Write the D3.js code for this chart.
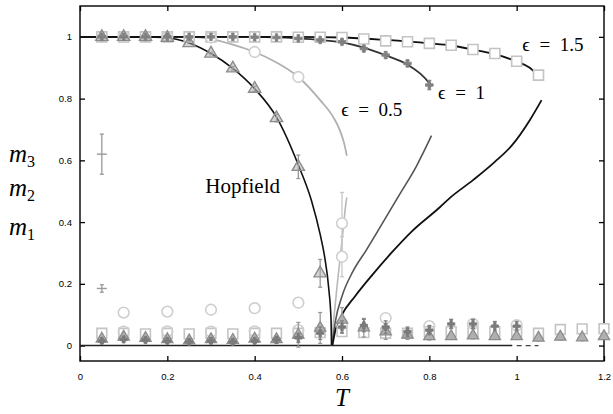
<!DOCTYPE html>
<html>
<head>
<meta charset="utf-8">
<script src="https://cdn.jsdelivr.net/npm/d3@7"></script>
<style>
  body { margin: 0; background: #fff; }
  svg { display: block; }
  .tick text { font-family: "Liberation Sans", Arial, sans-serif; font-size: 9.5px; }
  .serif { font-family: "Liberation Serif", "DejaVu Serif", serif; }
</style>
</head>
<body>
<div id="chart"></div>
<script>
// --- data ---
const xTicks = [0, 0.2, 0.4, 0.6, 0.8, 1, 1.2]
const yTicks = [0, 0.2, 0.4, 0.6, 0.8, 1]

// theory curves [T, m]
const hopfieldCurve = [[0,1],[0.15,1],[0.2,0.997],[0.25,0.98],[0.3,0.946],[0.35,0.898],[0.4,0.832],[0.45,0.74],[0.5,0.585],[0.53,0.47],[0.55,0.36],[0.56,0.29],[0.57,0.18],[0.575,0.08],[0.576,0]]
const eps05Curve = [[0,1],[0.25,1],[0.3,0.993],[0.35,0.975],[0.4,0.951],[0.45,0.917],[0.5,0.87],[0.55,0.795],[0.58,0.74],[0.595,0.698],[0.605,0.655],[0.611,0.615]]
const eps05Rise = [[0.576,0],[0.58,0.07],[0.585,0.14],[0.59,0.21],[0.597,0.3],[0.603,0.38],[0.608,0.45],[0.611,0.48]]
const eps1Curve = [[0,1],[0.4,1],[0.5,0.995],[0.55,0.99],[0.6,0.982],[0.65,0.965],[0.7,0.94],[0.75,0.91],[0.78,0.88],[0.8,0.85],[0.805,0.84]]
const eps1Rise = [[0.577,0],[0.585,0.08],[0.6,0.16],[0.625,0.24],[0.656,0.31],[0.69,0.39],[0.732,0.49],[0.77,0.58],[0.805,0.68]]
const eps15Curve = [[0,1],[0.5,1],[0.6,0.998],[0.7,0.99],[0.8,0.979],[0.85,0.972],[0.9,0.959],[0.95,0.944],[1.0,0.92],[1.03,0.9],[1.055,0.866]]
const eps15Rise = [[0.578,0],[0.585,0.05],[0.6,0.1],[0.63,0.16],[0.67,0.23],[0.713,0.3],[0.76,0.37],[0.824,0.448],[0.846,0.477],[0.9,0.536],[0.95,0.595],[0.99,0.65],[1.03,0.73],[1.057,0.795]]
const zeroLine = [[0,0],[0.99,0]]
const zeroDashes = [[1.0,0],[1.05,0]]

// simulation points: T, m, error
const triT    = [0.05,0.1,0.15,0.2,0.25,0.3,0.35,0.4,0.45,0.5,0.55]
const triM    = [1,1,1,0.997,0.98,0.946,0.898,0.832,0.737,0.579,0.234]
const triErr  = [0,0,0,0,0,0.004,0.006,0.008,0.012,0.038,0.045]
const triLowT = [0.05,0.1,0.15,0.2,0.25,0.3,0.35,0.4,0.45,0.5,0.55,0.6,0.65,0.7,0.75,0.8,0.85,0.9,0.95,1,1.05,1.1,1.15,1.2]
const triLowM = [0.022,0.028,0.024,0.02,0.016,0.02,0.018,0.022,0.02,0.035,0.057,0.083,0.058,0.045,0.035,0.03,0.03,0.032,0.03,0.03,0.025,0.028,0.026,0.03]
const triLowErr = [0.01,0.012,0.01,0.01,0.01,0.01,0.01,0.012,0.012,0.04,0.05,0.04,0.03,0.025,0.015,0.012,0.01,0.01,0.01,0.01,0.01,0.01,0.01,0.01]

const circT    = [0.1,0.2,0.3,0.4,0.5,0.6,0.6]
const circM    = [1,1,0.998,0.951,0.87,0.396,0.288]
const circErr  = [0,0,0,0,0,0.1,0.065]
const circMidT = [0.1,0.2,0.3,0.4,0.5]
const circMidM = [0.107,0.11,0.116,0.121,0.139]
const circLowT = [0.1,0.2,0.3,0.4,0.5,0.6,0.7,0.8,0.9,1.0]
const circLowM = [0.045,0.046,0.045,0.046,0.05,0.07,0.089,0.063,0.07,0.066]

const plusT    = [0.05,0.1,0.15,0.2,0.25,0.3,0.35,0.4,0.45,0.5,0.55,0.6,0.65,0.7,0.75,0.8]
const plusM    = [1,1,1,1,1,1,1,0.999,0.998,0.995,0.99,0.984,0.962,0.941,0.914,0.844]
const plusErr  = [0,0,0,0,0,0,0,0,0,0,0.004,0.006,0.008,0.01,0.01,0.015]
const plusMixT = [0.05,0.05]
const plusMixM = [0.62,0.185]
const plusMixErr = [0.065,0.012]
const plusLowT = [0.05,0.1,0.15,0.2,0.25,0.3,0.35,0.4,0.45,0.5,0.55,0.6,0.65,0.7,0.75,0.8,0.85,0.9,0.95,1.0]
const plusLowM = [0.015,0.02,0.018,0.015,0.012,0.015,0.012,0.015,0.018,0.025,0.04,0.06,0.065,0.06,0.045,0.05,0.07,0.07,0.063,0.063]
const plusLowErr = [0.008,0.008,0.008,0.008,0.008,0.008,0.008,0.008,0.01,0.015,0.02,0.02,0.02,0.02,0.015,0.015,0.015,0.015,0.015,0.015]

const sqT    = [0.05,0.1,0.15,0.2,0.25,0.3,0.35,0.4,0.45,0.5,0.55,0.6,0.65,0.7,0.75,0.8,0.85,0.9,0.95,1.0,1.05]
const sqM    = [1,1,1,1,1,1,1,1,1,0.999,0.999,0.998,0.993,0.987,0.984,0.979,0.973,0.959,0.946,0.921,0.876]
const sqLowT = [0.05,0.1,0.15,0.2,0.25,0.3,0.35,0.4,0.45,0.5,0.55,0.6,0.65,0.7,0.75,0.8,0.85,0.9,0.95,1.0,1.05,1.1,1.15,1.2]
const sqLowM = [0.04,0.04,0.038,0.04,0.038,0.04,0.038,0.04,0.04,0.04,0.042,0.045,0.042,0.04,0.04,0.045,0.045,0.045,0.045,0.045,0.04,0.052,0.054,0.055]

const labels = [
  { text: "\u03f5\u2002=\u20021.5", t: 1.013, m: 0.955 },
  { text: "\u03f5\u2002=\u20021", t: 0.82, m: 0.8 },
  { text: "\u03f5\u2002=\u20020.5", t: 0.598, m: 0.745 },
  { text: "Hopfield", t: 0.287, m: 0.495 }
]

// --- layout ---
const W = 613, H = 414
const margin = { top: 6, right: 9, bottom: 53, left: 80 }
const iw = W - margin.left - margin.right
const ih = H - margin.top - margin.bottom

const svg = d3.select("#chart").append("svg")
  .attr("width", W).attr("height", H)

const g = svg.append("g").attr("transform", `translate(${margin.left},${margin.top})`)

const x = d3.scaleLinear().domain([0, 1.2]).range([0, iw])
const y = d3.scaleLinear().domain([-0.05, 1.1]).range([ih, 0])

const smooth = d3.line().x(d => x(d[0])).y(d => y(d[1])).curve(d3.curveMonotoneX)

// axes with inward ticks
const fmt = d => d === 0 ? "0" : d3.format("~g")(d)
g.append("g").attr("transform", `translate(0,${ih})`)
  .call(d3.axisBottom(x).tickValues(xTicks).tickSize(-5).tickPadding(12).tickFormat(fmt))
g.append("g")
  .call(d3.axisTop(x).tickValues(xTicks).tickSize(-5).tickFormat(""))
g.append("g")
  .call(d3.axisLeft(y).tickValues(yTicks).tickSize(-5).tickPadding(8).tickFormat(fmt))
g.append("g").attr("transform", `translate(${iw},0)`)
  .call(d3.axisRight(y).tickValues(yTicks).tickSize(-5).tickFormat(""))
g.selectAll(".domain").remove()
g.selectAll(".tick line").attr("stroke", "#000").attr("stroke-width", 1.3)
g.append("rect").attr("width", iw).attr("height", ih)
  .attr("fill", "none").attr("stroke", "#000").attr("stroke-width", 1.4)

const plot = g.append("g")

// curves
const curves = [
  { d: zeroLine, c: "#222", w: 1.4, dash: null },
  { d: zeroDashes, c: "#444", w: 1.2, dash: "5,4" },
  { d: eps05Curve, c: "#b0b0b0", w: 1.8 },
  { d: eps05Rise, c: "#b8b8b8", w: 1.6 },
  { d: eps1Rise, c: "#555", w: 1.6 },
  { d: eps15Rise, c: "#111", w: 1.8 },
  { d: eps1Curve, c: "#333", w: 1.8 },
  { d: eps15Curve, c: "#111", w: 1.8 },
  { d: hopfieldCurve, c: "#111", w: 1.6 }
]
plot.selectAll(".curve").data(curves).enter().append("path")
  .attr("class", "curve")
  .attr("fill", "none")
  .attr("stroke", d => d.c)
  .attr("stroke-width", d => d.w)
  .attr("stroke-dasharray", d => d.dash)
  .attr("d", d => smooth(d.d))

// helpers for markers
function pts(ts, ms, errs) {
  return ts.map((t, i) => ({ t, m: ms[i], e: errs ? errs[i] : 0 }))
}
function errorBars(data, color) {
  const eb = plot.append("g").attr("stroke", color).attr("stroke-width", 1.3)
  data.filter(d => d.e > 0).forEach(d => {
    const cx = x(d.t)
    eb.append("line").attr("x1", cx).attr("x2", cx).attr("y1", y(d.m - d.e)).attr("y2", y(d.m + d.e))
    eb.append("line").attr("x1", cx - 2).attr("x2", cx + 2).attr("y1", y(d.m - d.e)).attr("y2", y(d.m - d.e))
    eb.append("line").attr("x1", cx - 2).attr("x2", cx + 2).attr("y1", y(d.m + d.e)).attr("y2", y(d.m + d.e))
  })
}
function symbols(data, type, size, stroke, fill, sw) {
  plot.append("g").selectAll("path").data(data).enter().append("path")
    .attr("transform", d => `translate(${x(d.t)},${y(d.m)})`)
    .attr("d", d3.symbol().type(type).size(size))
    .attr("fill", fill).attr("stroke", stroke).attr("stroke-width", sw)
}

// squares (eps = 1.5)
symbols(pts(sqLowT, sqLowM), d3.symbolSquare, 95, "#c4c4c4", "#fff", 1.6)
// circles (eps = 0.5)
symbols(pts(circLowT, circLowM), d3.symbolCircle, 90, "#cfcfcf", "none", 1.6)
symbols(pts(circMidT, circMidM), d3.symbolCircle, 90, "#cfcfcf", "none", 1.6)
// triangles (Hopfield)
const triLow = pts(triLowT, triLowM, triLowErr)
errorBars(triLow, "#9a9a9a")
symbols(triLow, d3.symbolTriangle, 55, "#8c8c8c", "#b0b0b0", 1.3)
// pluses (eps = 1)
const plusLow = pts(plusLowT, plusLowM, plusLowErr)
errorBars(plusLow, "#808080")
symbols(plusLow, d3.symbolCross, 30, "#7a7a7a", "#7a7a7a", 0.8)

// upper branch markers
symbols(pts(sqT, sqM), d3.symbolSquare, 100, "#c4c4c4", "#fff", 1.6)
const circUp = pts(circT, circM, circErr)
errorBars(circUp, "#c8c8c8")
symbols(circUp, d3.symbolCircle, 90, "#cfcfcf", "#fff", 1.6)
const triUp = pts(triT, triM, triErr)
errorBars(triUp, "#9a9a9a")
symbols(triUp, d3.symbolTriangle, 65, "#8c8c8c", "rgba(170,170,170,0.5)", 1.4)
const plusUp = pts(plusT, plusM, plusErr)
errorBars(plusUp, "#8a8a8a")
symbols(plusUp, d3.symbolCross, 32, "#808080", "#808080", 0.8)
const plusMix = pts(plusMixT, plusMixM, plusMixErr)
errorBars(plusMix, "#999")
plot.append("g").selectAll("path").data(plusMix).enter().append("path")
  .attr("d", d => `M${x(d.t) - 5},${y(d.m)}H${x(d.t) + 5}`)
  .attr("stroke", "#999").attr("stroke-width", 1.4)

// curve labels
g.selectAll(".lbl").data(labels).enter().append("text")
  .attr("class", "lbl serif")
  .attr("x", d => x(d.t)).attr("y", d => y(d.m))
  .attr("font-size", d => d.text === "Hopfield" ? 21 : 19)
  .text(d => d.text)

// axis labels
svg.append("text").attr("class", "serif")
  .attr("x", margin.left + x(0.6)).attr("y", 406)
  .attr("text-anchor", "middle").attr("font-size", 25).attr("font-style", "italic")
  .text("T")

const yl = svg.append("g").attr("class", "serif")
;[["3", 162], ["2", 196], ["1", 235]].forEach(([sub, by]) => {
  const t = yl.append("text").attr("x", 9).attr("y", by).attr("font-size", 25)
  t.append("tspan").attr("font-style", "italic").text("m")
  t.append("tspan").attr("font-size", 16).attr("dy", 5).text(sub)
})
</script>
</body>
</html>
